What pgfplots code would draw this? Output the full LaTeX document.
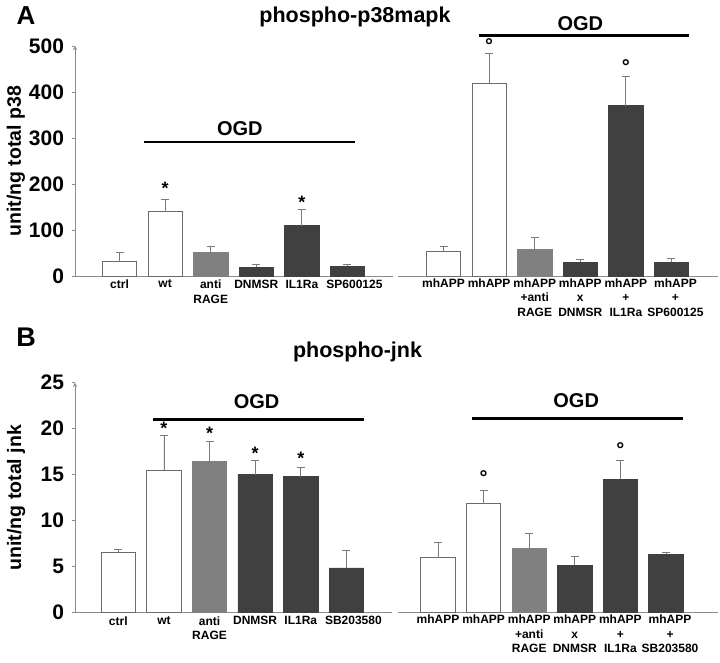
\documentclass[border=0pt]{standalone}
\usepackage{fontspec}
\setmainfont{Liberation Sans}
\usepackage{pgfplots}
\pgfplotsset{compat=1.18}
\definecolor{dark}{HTML}{404040}
\definecolor{midgray}{HTML}{808080}
\definecolor{edgec}{HTML}{6A6A6A}
\definecolor{errc}{HTML}{7A7A7A}
\definecolor{axiscol}{HTML}{8C8C8C}
\newcommand{\fs}[1]{\bfseries\fontsize{#1}{#1}\selectfont}
\tikzset{ogdline/.style={line width=2.6pt}}
\pgfplotsset{
  panel/.style={
    scale only axis, ybar, bar width=34.4pt, enlargelimits=false, clip=false,
    axis x line=bottom, axis line style={-, axiscol, line width=0.9pt},
    xtick={0,...,5}, xtick style={draw=none},
    xticklabel style={font=\bfseries\fontsize{12}{14.5}\selectfont, align=center, inner sep=1pt, anchor=north, yshift=1pt},
    yticklabel style={font=\fs{21}, xshift=-4pt},
    /pgf/number format/assume math mode=true,
    ymin=0,
  },
  leftpanel/.style={panel, axis y line=left, ytick style={axiscol, line width=0.9pt},
    tick align=outside, major tick length=3.5pt,
    every axis y label/.style={at={(axis description cs:-0.186,0.5)}, rotate=90, anchor=center, font=\fs{19.5}}},
  rightpanel/.style={panel, axis y line=none, ytick=\empty},
  wbar/.style={bar shift=0pt, fill=white, draw=edgec, line width=0.8pt},
  gbar/.style={bar shift=0pt, fill=midgray, draw=midgray, line width=0.8pt},
  dbar/.style={bar shift=0pt, fill=dark, draw=dark, line width=0.8pt},
  eb/.style={error bars/.cd, y dir=plus, y explicit,
    error bar style={errc, line width=0.8pt},
    error mark options={errc, rotate=90, mark size=4pt, line width=0.8pt}},
}
\begin{document}
\begin{tikzpicture}
\useasboundingbox (0pt,0pt) rectangle (720pt,663pt);
\node[font=\fs{26}] at (26pt,647pt) {A};
\node[font=\fs{27}] at (26pt,326pt) {B};
\node[font=\fs{21.5}] at (355pt,646.5pt) {phospho-p38mapk};
\node[font=\fs{21.5}] at (357.5pt,311.5pt) {phospho-jnk};

% ---------- Panel A left
\begin{axis}[leftpanel, at={(75pt,386.7pt)}, anchor=south west, width=318pt, height=230.3pt,
  xmin=-0.976, xmax=5.998, ymax=500, ytick={0,100,...,500},
  ylabel={unit/ng total p38},
  xticklabels={ctrl, wt, {anti\\RAGE}, DNMSR, IL1Ra, {\hspace*{14pt}SP600125}}]
\addplot[wbar, eb] coordinates {(0,32) +- (0,19) (1,141) +- (0,27)};
\addplot[gbar, eb] coordinates {(2,51) +- (0,14)};
\addplot[dbar, eb] coordinates {(3,20) +- (0,5) (4,110) +- (0,35) (5,22) +- (0,3)};
\draw[ogdline] (axis cs:0.54,291.3) -- (axis cs:5.16,291.3);
\node[font=\fs{20}] at (axis cs:2.64,320) {OGD};
\node[font=\fs{18}] at (axis cs:1,190) {*};
\node[font=\fs{18}] at (axis cs:4,160) {*};
\end{axis}

% ---------- Panel A right
\begin{axis}[rightpanel, at={(398pt,386.7pt)}, anchor=south west, width=320pt, height=230.3pt,
  xmin=-0.998, xmax=6.02, ymax=500,
  xticklabels={mhAPP, mhAPP, {mhAPP\\+anti\\RAGE}, {mhAPP\\x\\DNMSR}, {mhAPP\\+\\IL1Ra}, {\hspace*{8pt}mhAPP\\\hspace*{8pt}+\\\hspace*{8pt}SP600125}}]
\addplot[wbar, eb] coordinates {(0,55) +- (0,9) (1,419) +- (0,64)};
\addplot[gbar, eb] coordinates {(2,58) +- (0,26)};
\addplot[dbar, eb] coordinates {(3,31) +- (0,5) (4,370) +- (0,64) (5,30) +- (0,9)};
\draw[ogdline] (axis cs:0.78,523) -- (axis cs:5.39,523);
\node[font=\fs{20}] at (axis cs:3.0,548) {OGD};
\node[font=\fs{20}] at (axis cs:1,500) {°};
\node[font=\fs{20}] at (axis cs:4,455) {°};
\end{axis}

% ---------- Panel B left
\begin{axis}[leftpanel, at={(75pt,50.3pt)}, anchor=south west, width=317pt, height=230pt,
  xmin=-0.95, xmax=6.0, ymax=25, ytick={0,5,...,25},
  ylabel={unit/ng total jnk},
  xticklabels={ctrl, wt, {anti\\RAGE}, DNMSR, IL1Ra, {\hspace*{14pt}SB203580}}]
\addplot[wbar, eb] coordinates {(0,6.56) +- (0,0.36) (1,15.5) +- (0,3.8)};
\addplot[gbar, eb] coordinates {(2,16.4) +- (0,2.2)};
\addplot[dbar, eb] coordinates {(3,15.0) +- (0,1.5) (4,14.8) +- (0,0.96) (5,4.86) +- (0,1.92)};
\draw[ogdline] (axis cs:0.77,21.0) -- (axis cs:5.39,21.0);
\node[font=\fs{20}] at (axis cs:3.03,22.9) {OGD};
\node[font=\fs{18}] at (axis cs:1,20.0) {*};
\node[font=\fs{18}] at (axis cs:2,19.45) {*};
\node[font=\fs{18}] at (axis cs:3,17.35) {*};
\node[font=\fs{18}] at (axis cs:4,16.75) {*};
\end{axis}

% ---------- Panel B right
\begin{axis}[rightpanel, at={(398pt,50.3pt)}, anchor=south west, width=320pt, height=230pt,
  xmin=-0.877, xmax=6.14, ymax=25,
  xticklabels={mhAPP, mhAPP, {mhAPP\\+anti\\RAGE}, {mhAPP\\x\\DNMSR}, {mhAPP\\+\\IL1Ra}, {\hspace*{8pt}mhAPP\\\hspace*{8pt}+\\\hspace*{8pt}SB203580}}]
\addplot[wbar, eb] coordinates {(0,5.98) +- (0,1.62) (1,11.85) +- (0,1.45)};
\addplot[gbar, eb] coordinates {(2,7.0) +- (0,1.6)};
\addplot[dbar, eb] coordinates {(3,5.14) +- (0,0.96) (4,14.5) +- (0,2.06) (5,6.38) +- (0,0.14)};
\draw[ogdline] (axis cs:0.75,21.1) -- (axis cs:5.38,21.1);
\node[font=\fs{20}] at (axis cs:3.03,23.0) {OGD};
\node[font=\fs{20}] at (axis cs:1,14.67) {°};
\node[font=\fs{20}] at (axis cs:4,17.76) {°};
\end{axis}
\end{tikzpicture}
\end{document}
